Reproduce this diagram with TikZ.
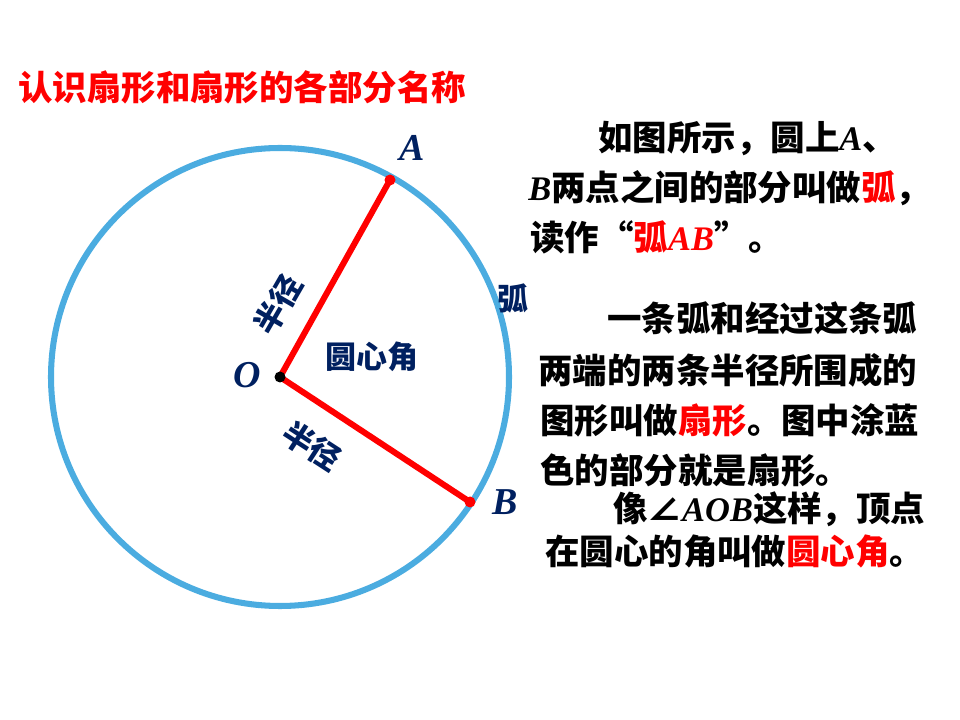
\documentclass[tikz,border=0pt]{standalone}
\usepackage{fontspec}
\setmainfont{Noto Sans CJK SC}
\newfontfamily\lat{Liberation Serif}
\newcommand\ltr[1]{{\lat\bfseries\itshape #1}}
\definecolor{arcblue}{RGB}{75,172,224}
\definecolor{navy}{RGB}{0,32,96}
\definecolor{rred}{RGB}{255,0,0}

\begin{document}
\begin{tikzpicture}[x=0.025cm, y=-0.025cm,
  line/.style={anchor=west, inner sep=0pt, font=\fontsize{24.5}{28}\selectfont\bfseries},
  lbl/.style={navy, inner sep=0pt, font=\fontsize{22}{24}\selectfont\bfseries},
  pt/.style={navy, inner sep=0pt, font=\fontsize{27}{30}\selectfont\lat\bfseries\itshape}]
\useasboundingbox (0,0) rectangle (960,720);
\coordinate (O) at (280,377);
\coordinate (A) at (390,180);
\coordinate (B) at (470,502);
\draw [line width=4.3pt, arcblue] (O) circle [radius=229];
\draw [line width=4.3pt, rred] (A) -- (O) -- (B);
\fill [rred] (A) circle [radius=5.5];
\fill [rred] (B) circle [radius=5.5];
\fill [black] (O) circle [radius=5.5];
\node[pt] (la) at (412,148) {A};
\node[pt] (lb) at (505,502) {B};
\node[pt] (lo) at (247,375) {O};
\node[lbl] (arc) at (513,298) {弧};
\node[lbl, rotate=60] (r1) at (278,305) {半径};
\node[lbl, rotate=-33] (r2) at (312,446) {半径};
\node[lbl] (ang) at (372,357) {圆心角};
\node[line, rred] (title) at (18,87) {认识扇形和扇形的各部分名称};
\node[line] (t1) at (598,139) {如图所示，圆上\ltr{A}、};
\node[line] (t2) at (528,188) {\ltr{B}两点之间的部分叫做\textcolor{rred}{弧}，};
\node[line] (t3) at (530,237) {读作“\textcolor{rred}{弧\ltr{AB}}”。};
\node[line] (t4) at (607,318) {一条弧和经过这条弧};
\node[line] (t5) at (538,370) {两端的两条半径所围成的};
\node[line] (t6) at (540,420) {图形叫做\textcolor{rred}{扇形}。图中涂蓝};
\node[line] (t7) at (540,470) {色的部分就是扇形。};
\node[line] (t8) at (613,509) {像∠\ltr{AOB}这样，顶点};
\node[line] (t9) at (545,551) {在圆心的角叫做\textcolor{rred}{圆心角}。};
\end{tikzpicture}
\end{document}
